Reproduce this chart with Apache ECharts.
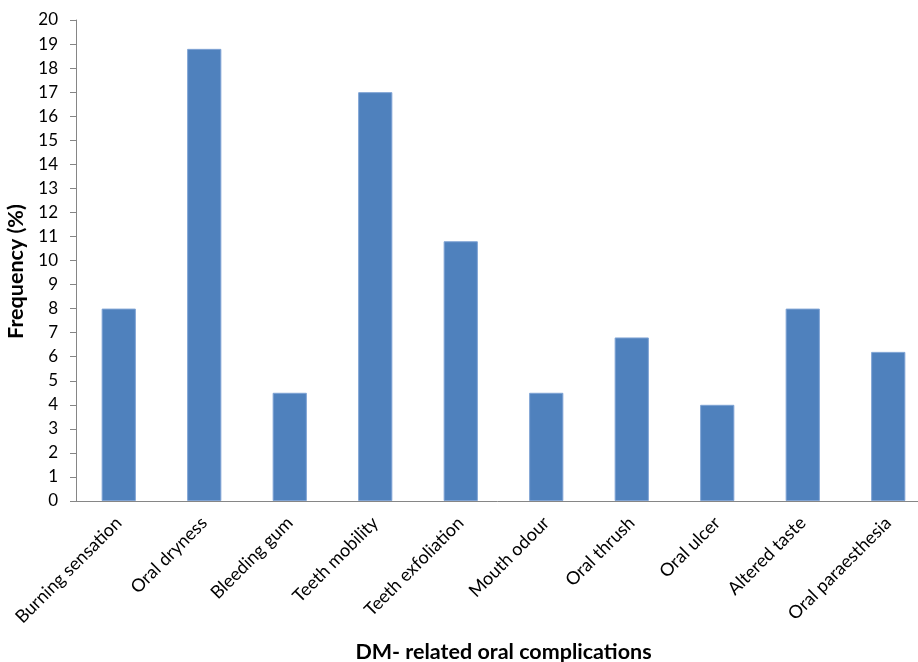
<!DOCTYPE html>
<html>
<head>
<meta charset="utf-8">
<script src="https://cdn.jsdelivr.net/npm/echarts@6/dist/echarts.min.js"></script>
<style>
html,body{margin:0;padding:0;background:#fff;overflow:hidden;}
#chart{width:918px;height:662px;}
</style>
</head>
<body>
<div id="chart"></div>
<script>
const categories = ["Burning sensation","Oral dryness","Bleeding gum","Teeth mobility","Teeth exfoliation","Mouth odour","Oral thrush","Oral ulcer","Altered taste","Oral paraesthesia"];
const frequency = [8, 18.8, 4.5, 17, 10.8, 4.5, 6.8, 4, 8, 6.2];
const xTitle = "DM- related oral complications";
const yTitle = "Frequency (%)";

const chart = echarts.init(document.getElementById('chart'), null, {renderer:'canvas'});
const font = 'Lato, "Open Sans", sans-serif';
chart.setOption({
  animation:false,
  backgroundColor:'#fff',
  grid:{left:76, right:-13, top:20, bottom:161, containLabel:false, outerBoundsMode:'none'},
  xAxis:{
    type:'category',
    data:categories,
    name:xTitle,
    nameLocation:'middle',
    nameGap:140,
    nameTextStyle:{fontFamily:font, fontWeight:'bold', fontSize:21.5, color:'#000'},
    axisLine:{lineStyle:{color:'#868686', width:1}},
    axisTick:{show:false},
    axisLabel:{rotate:45, interval:0, fontFamily:font, fontSize:18, color:'#000', margin:19}
  },
  yAxis:{
    type:'value',
    min:0, max:20, interval:1,
    name:yTitle,
    nameLocation:'middle',
    nameGap:46,
    nameRotate:90,
    nameTextStyle:{fontFamily:font, fontWeight:'bold', fontSize:21.5, color:'#000', padding:[0,22,0,0]},
    axisLine:{show:true, lineStyle:{color:'#868686', width:1}},
    axisTick:{show:true, length:6, lineStyle:{color:'#868686'}},
    splitLine:{show:false},
    axisLabel:{fontFamily:font, fontSize:17, color:'#000', margin:18}
  },
  series:[{
    type:'bar',
    data:frequency,
    barCategoryGap:'60%',
    itemStyle:{color:'#4F81BD', borderColor:'#7FA3D4', borderWidth:1}
  }]
});
</script>
</body>
</html>
